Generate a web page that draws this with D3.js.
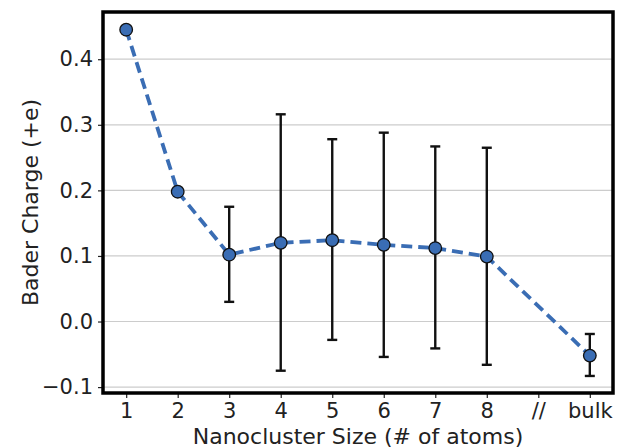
<!DOCTYPE html>
<html>
  <head>
    <meta charset="UTF-8">
    <title>Bader charge vs nanocluster size</title>
    <script src="https://cdn.jsdelivr.net/npm/d3@7"></script>
    <style>
      body, html { margin:0; padding:0; background:#fff; }
      text { font-family: "DejaVu Sans", sans-serif; fill:#222; }
    </style>
  </head>
  <body>
  <div id="chart"></div>
<script type="text/javascript">

// positions on the x axis (9 is the "//" break, no data)
var sizes     = [1, 2, 3, 4, 5, 6, 7, 8, 10];
var charges   = [0.445, 0.198, 0.102, 0.120, 0.124, 0.117, 0.112, 0.099, -0.052];
var errLow    = [null, null, 0.030, -0.075, -0.028, -0.054, -0.041, -0.066, -0.083];
var errHigh   = [null, null, 0.175, 0.316, 0.278, 0.288, 0.267, 0.265, -0.019];
var xTicks    = [1, 2, 3, 4, 5, 6, 7, 8, 9, 10];
var xLabels   = ['1', '2', '3', '4', '5', '6', '7', '8', '//', 'bulk'];
var yTicks    = [-0.1, 0.0, 0.1, 0.2, 0.3, 0.4];

var W = 618, H = 448,
    margin = { top: 12, right: 5, bottom: 55, left: 103 },
    blue = '#3a6db4';

var svg = d3.select('#chart').append('svg').attr('width', W).attr('height', H);

var x = d3.scaleLinear().domain([0.55, 10.45]).range([margin.left, W - margin.right]);
var y = d3.scaleLinear().domain([-0.109, 0.472]).range([H - margin.bottom, margin.top]);

// grid
svg.append('g').selectAll('line').data(yTicks).enter().append('line')
  .attr('x1', x.range()[0]).attr('x2', x.range()[1])
  .attr('y1', function(d){ return y(d); }).attr('y2', function(d){ return y(d); })
  .attr('stroke', '#cccccc').attr('stroke-width', 1.2);

// axes
var yAxis = d3.axisLeft(y).tickValues(yTicks).tickSize(5).tickPadding(5)
  .tickFormat(function(d){ return d3.format('.1f')(d).replace('-', '\u2212'); });
var xAxis = d3.axisBottom(x).tickValues(xTicks).tickSize(5).tickPadding(5)
  .tickFormat(function(d, i){ return xLabels[i]; });

var gy = svg.append('g').attr('transform', 'translate(' + margin.left + ',0)').call(yAxis);
var gx = svg.append('g').attr('transform', 'translate(0,' + (H - margin.bottom) + ')').call(xAxis);
[gx, gy].forEach(function(g){
  g.select('.domain').remove();
  g.selectAll('.tick line').attr('stroke', '#222').attr('stroke-width', 1.2);
  g.selectAll('.tick text').style('font-size', '21px').attr('fill', '#222');
});

// line
var line = d3.line()
  .x(function(d, i){ return x(sizes[i]); })
  .y(function(d){ return y(d); });

svg.append('path').datum(charges)
  .attr('d', line)
  .attr('fill', 'none')
  .attr('stroke', blue)
  .attr('stroke-width', 3.8)
  .attr('stroke-dasharray', '11,6');

// error bars
var eb = svg.append('g').attr('stroke', '#111').attr('stroke-width', 2.4);
sizes.forEach(function(s, i){
  if (errLow[i] === null) return;
  eb.append('line').attr('x1', x(s)).attr('x2', x(s)).attr('y1', y(errLow[i])).attr('y2', y(errHigh[i]));
  [errLow[i], errHigh[i]].forEach(function(v){
    eb.append('line').attr('x1', x(s) - 5).attr('x2', x(s) + 5).attr('y1', y(v)).attr('y2', y(v));
  });
});

// markers
svg.append('g').selectAll('circle').data(charges).enter().append('circle')
  .attr('cx', function(d, i){ return x(sizes[i]); })
  .attr('cy', function(d){ return y(d); })
  .attr('r', 6.3)
  .attr('fill', blue)
  .attr('stroke', '#111')
  .attr('stroke-width', 1.3);

// frame
svg.append('rect')
  .attr('x', x.range()[0]).attr('y', margin.top)
  .attr('width', x.range()[1] - x.range()[0])
  .attr('height', H - margin.bottom - margin.top)
  .attr('fill', 'none').attr('stroke', '#000').attr('stroke-width', 3.5);

// labels
svg.append('text')
  .attr('transform', 'translate(30,' + ((margin.top + H - margin.bottom) / 2) + ') rotate(-90)')
  .attr('text-anchor', 'middle').attr('dy', '0.35em')
  .style('font-size', '22px')
  .text('Bader Charge (+e)');

svg.append('text')
  .attr('x', (x.range()[0] + x.range()[1]) / 2).attr('y', 444)
  .attr('text-anchor', 'middle')
  .style('font-size', '22px')
  .text('Nanocluster Size (# of atoms)');

</script>
  </body>
</html>
